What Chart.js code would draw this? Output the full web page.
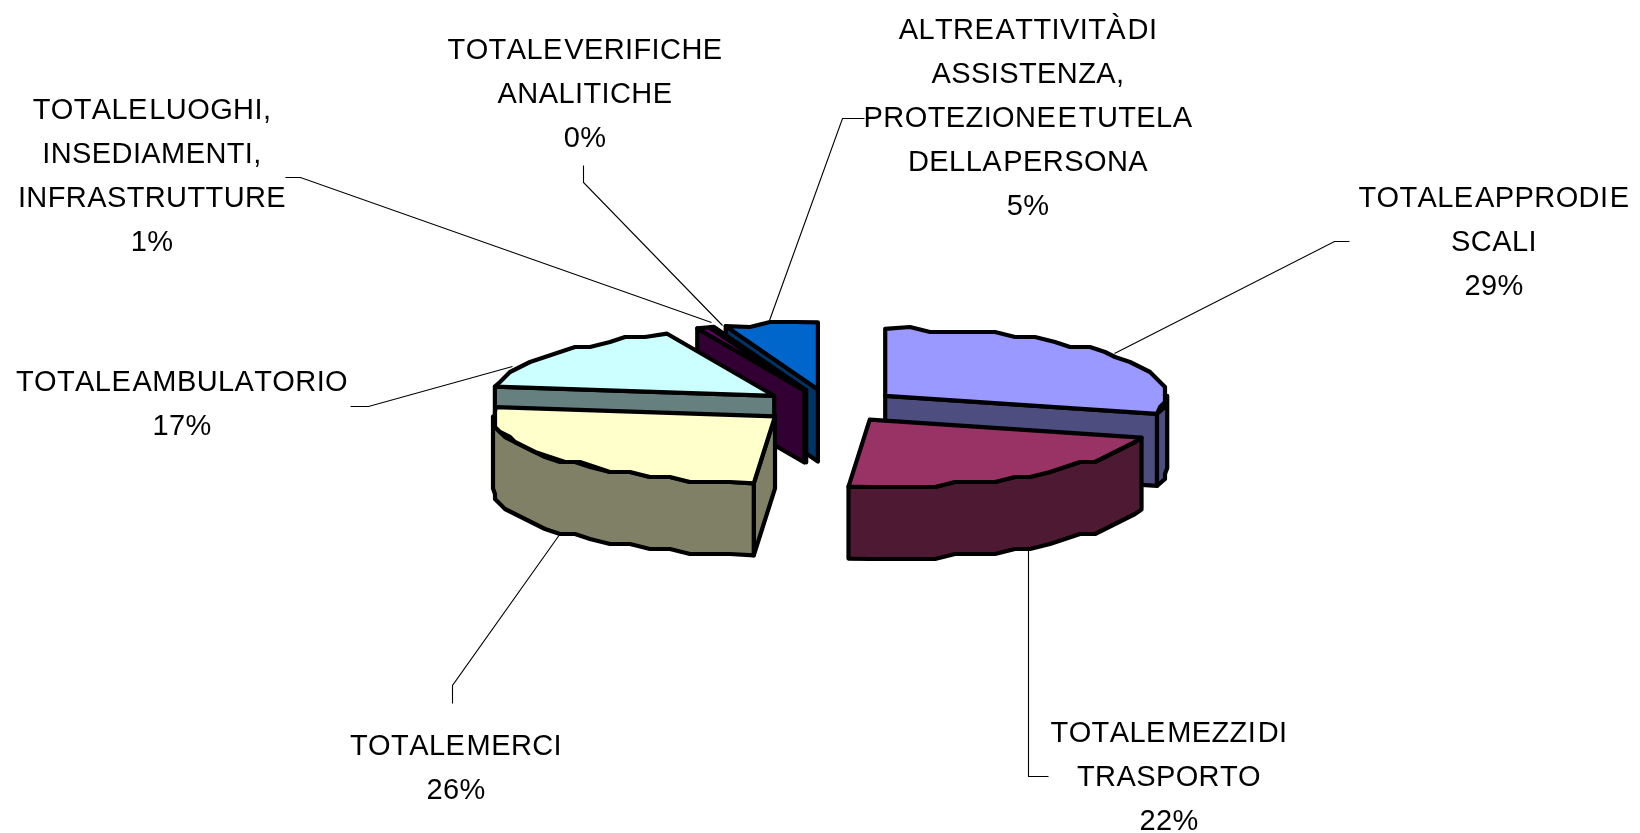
<!DOCTYPE html>
<html>
<head>
<meta charset="utf-8">
<script src="https://cdn.jsdelivr.net/npm/chart.js@4"></script>
<style>
  html, body { margin: 0; padding: 0; background: #fff; overflow: hidden; }
  canvas { display: block; }
</style>
</head>
<body>
<canvas id="pieChart" width="1640" height="833"></canvas>
<script>
const categories = [
  ["TOTALE APPRODI E", "SCALI"],
  ["TOTALE MEZZI DI", "TRASPORTO"],
  ["TOTALE MERCI"],
  ["TOTALE AMBULATORIO"],
  ["TOTALE LUOGHI,", "INSEDIAMENTI,", "INFRASTRUTTURE"],
  ["TOTALE VERIFICHE", "ANALITICHE"],
  ["ALTRE ATTIVITÀ DI", "ASSISTENZA,", "PROTEZIONE E TUTELA", "DELLA PERSONA"]
];
const shares = [29.3, 21.9, 26.0, 16.6, 0.7, 0.2, 5.3];
const topColors = ["#9999FF", "#993366", "#FFFFCC", "#CCFFFF", "#660066", "#FF8080", "#0066CC"];
const sideColors = ["#4D4D80", "#4D1933", "#808066", "#668080", "#330033", "#804040", "#003366"];

// fake 3D settings
const tilt = 0.238;
const depth = 72;
const explode = 70;
const drawOrder = [6, 5, 4, 3, 0, 2, 1];

// label centre x, y of first line, and leader line
const labelLayout = [
  { x: 1494, y: 199, line: [[1349, 241], [1334, 241], [1114, 353]] },
  { x: 1169, y: 734, line: [[1048, 776], [1028, 776], [1028, 544]] },
  { x: 456, y: 747, line: [[452, 703], [452, 685], [562, 530]] },
  { x: 182, y: 383, line: [[350, 406], [368, 406], [512, 366]] },
  { x: 152, y: 111, line: [[285, 177], [300, 177], [711, 322]] },
  { x: 585, y: 51, line: [[583, 165], [583, 182], [722, 325]] },
  { x: 1028, y: 31, line: [[864, 118], [842, 118], [769, 320]] }
];
const lineGap = 44;

function rimPoints(cx, cy, r, a0, a1) {
  // stepped outline like the original low-res metafile
  const pts = [];
  const step = Math.PI / 40;
  const n = Math.max(1, Math.round((a1 - a0) / step));
  for (let i = 0; i <= n; i++) {
    const a = a0 + (a1 - a0) * i / n;
    let x = cx + r * Math.cos(a);
    let y = cy + r * tilt * Math.sin(a);
    if (i > 0 && i < n) {
      x = Math.round(x / 5) * 5;
      y = Math.round((y - 2) / 5) * 5 + 2;
    }
    pts.push([x, y]);
  }
  return pts;
}

function poly(ctx, pts, fill) {
  ctx.beginPath();
  pts.forEach((p, i) => i ? ctx.lineTo(p[0], p[1]) : ctx.moveTo(p[0], p[1]));
  ctx.closePath();
  ctx.fillStyle = fill;
  ctx.fill();
  ctx.stroke();
}

function drawSlice(ctx, arc, i) {
  const mid = (arc.startAngle + arc.endAngle) / 2;
  const off = arc.options.offset;
  const cx = arc.x + Math.cos(mid) * off;
  const cy = arc.y + Math.sin(mid) * off * tilt;
  const r = arc.outerRadius;
  const down = p => [p[0], p[1] + depth];

  const face = a => {
    const p = [[cx, cy], [cx + r * Math.cos(a), cy + r * tilt * Math.sin(a)]];
    poly(ctx, [p[0], p[1], down(p[1]), down(p[0])], sideColors[i]);
  };
  // only the cut faces turned towards the viewer
  if (Math.cos(arc.startAngle) < -1e-6) face(arc.startAngle);
  if (Math.cos(arc.endAngle) > 1e-6) face(arc.endAngle);

  const from = Math.max(arc.startAngle, 0);
  const to = Math.min(arc.endAngle, Math.PI);
  if (to > from) {
    const rim = rimPoints(cx, cy, r, from, to);
    poly(ctx, rim.concat(rim.map(down).reverse()), sideColors[i]);
  }
  const top = [[cx, cy]].concat(rimPoints(cx, cy, r, arc.startAngle, arc.endAngle));
  poly(ctx, top, topColors[i]);
}

const fakePie3d = {
  id: "fakePie3d",
  beforeDatasetsDraw(chart) {
    const ctx = chart.ctx;
    const arcs = chart.getDatasetMeta(0).data;
    ctx.save();
    ctx.strokeStyle = "#000";
    ctx.lineWidth = 1.1;
    labelLayout.forEach(l => {
      ctx.beginPath();
      l.line.forEach((p, i) => i ? ctx.lineTo(p[0] + 0.5, p[1] + 0.5) : ctx.moveTo(p[0] + 0.5, p[1] + 0.5));
      ctx.stroke();
    });
    ctx.lineWidth = 4.2;
    ctx.lineJoin = "round";
    drawOrder.forEach(i => drawSlice(ctx, arcs[i], i));
    ctx.restore();
    return false;
  },
  afterDraw(chart) {
    const ctx = chart.ctx;
    const total = shares.reduce((a, b) => a + b, 0);
    ctx.save();
    ctx.font = "29px 'Liberation Sans'";
    ctx.fillStyle = "#000";
    ctx.textAlign = "center";
    ctx.textBaseline = "middle";
    ctx.fontKerning = "none";
    ctx.letterSpacing = "0.4px";
    ctx.wordSpacing = "-7px";
    categories.forEach((lines, i) => {
      const pct = Math.round(shares[i] / total * 100) + "%";
      lines.concat(pct).forEach((t, n) => {
        ctx.fillText(t, labelLayout[i].x, labelLayout[i].y + n * lineGap);
      });
    });
    ctx.restore();
  }
};

new Chart(document.getElementById("pieChart"), {
  type: "pie",
  data: {
    labels: categories,
    datasets: [{
      data: shares,
      backgroundColor: topColors,
      offset: explode
    }]
  },
  options: {
    responsive: false,
    animation: false,
    radius: 282,
    layout: { padding: { left: 19, bottom: 21 } },
    plugins: { legend: { display: false }, tooltip: { enabled: false } }
  },
  plugins: [fakePie3d]
});
</script>
</body>
</html>
